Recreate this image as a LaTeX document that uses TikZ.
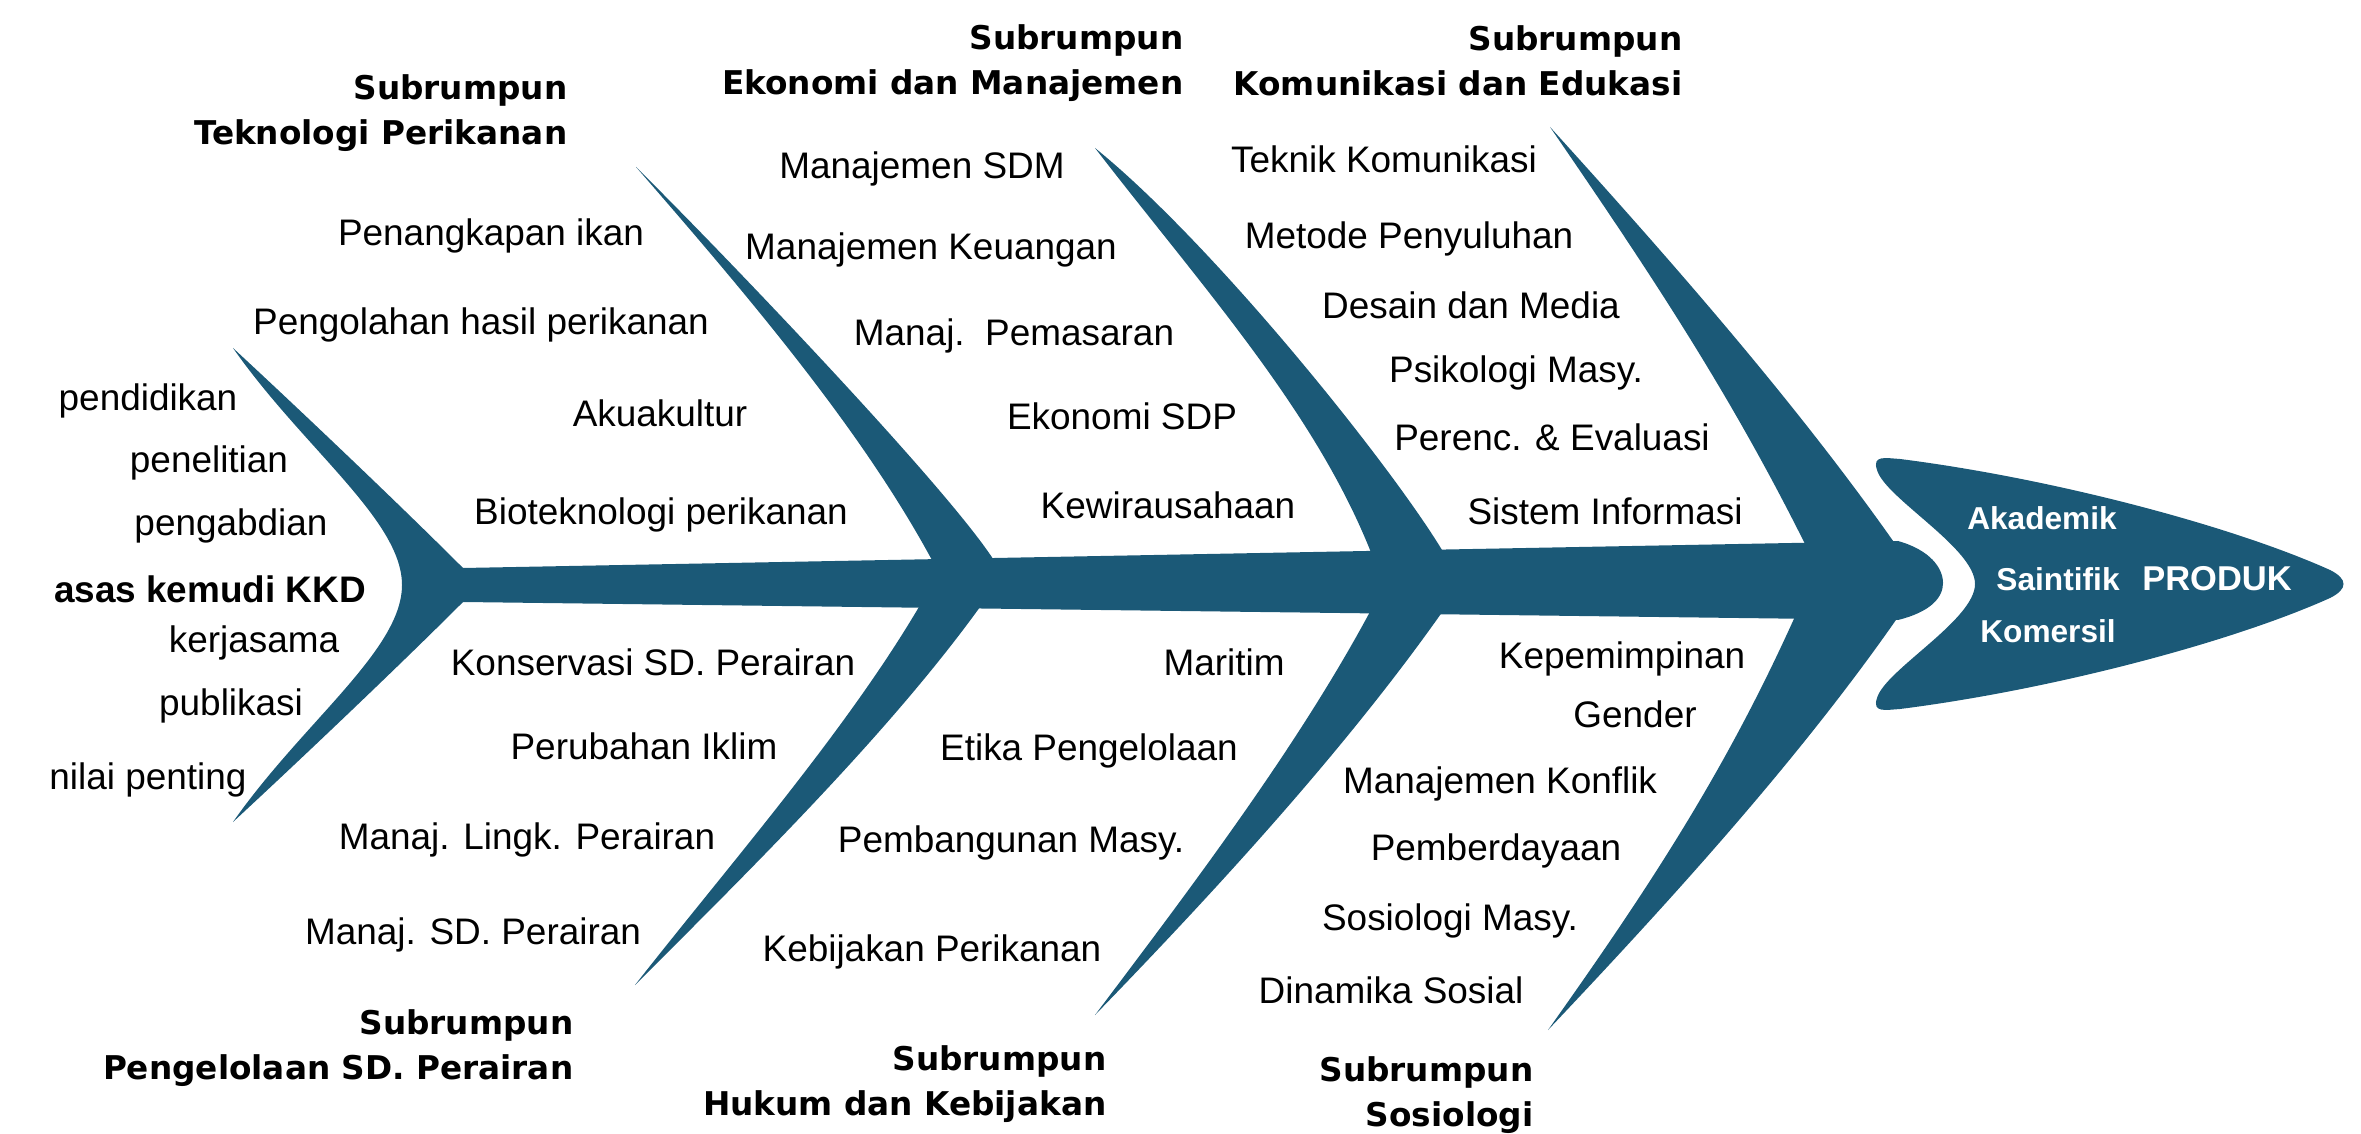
\documentclass[tikz,border=0pt]{standalone}
\usepackage{fontspec}
\setmainfont{Liberation Sans}
\newfontfamily\headfont{DejaVu Sans}
\definecolor{fishblue}{RGB}{27,89,119}
\tikzset{
  item/.style={font=\fontsize{10.5}{12.6}\selectfont,inner sep=0pt,text height=0.8em,text depth=0.1em},
  subrumpun/.style={font=\headfont\bfseries\fontsize{9.3}{12.8}\selectfont,align=right,anchor=east,inner sep=0pt},
  headtext/.style={font=\bfseries\fontsize{9}{10.8}\selectfont,text=white,inner sep=0pt,text height=0.8em,text depth=0.1em},
}
\begin{document}
\begin{tikzpicture}[x=0.01cm,y=-0.01cm]
    \useasboundingbox (0,0) rectangle (2361,1134);

    % tail
    \fill[fishblue] (463,568) .. controls (400,505) and (300,410) .. (233,348)
        .. controls (303,448) and (402,520) .. (402,585)
        .. controls (402,650) and (303,722) .. (233,822)
        .. controls (300,760) and (400,665) .. (463,602) -- cycle;
    % spine
    \fill[fishblue] (463,568) -- (1898,541) .. controls (1930,550) and (1943,568) .. (1943,583)
        .. controls (1943,598) and (1930,612) .. (1898,620) -- (463,602) -- cycle;
    % upper bones
    \fill[fishblue] (636,167) .. controls (749,297) and (862,430) .. (933,562) -- (995,562)
        .. controls (950,490) and (720,250) .. (636,167) -- cycle;
    \fill[fishblue] (1095,148) .. controls (1203,288) and (1316,412) .. (1372,555) -- (1445,555)
        .. controls (1395,470) and (1215,245) .. (1095,148) -- cycle;
    \fill[fishblue] (1550,127) .. controls (1653,277) and (1731,395) .. (1807,548) -- (1898,548)
        .. controls (1800,408) and (1677,267) .. (1550,127) -- cycle;
    % lower bones
    \fill[fishblue] (923,600) .. controls (849,728) and (729,865) .. (635,985)
        .. controls (755,865) and (894,728) .. (985,600) -- cycle;
    \fill[fishblue] (1372,608) .. controls (1299,745) and (1193,885) .. (1095,1015)
        .. controls (1221,885) and (1349,745) .. (1445,608) -- cycle;
    \fill[fishblue] (1797,612) .. controls (1726,771) and (1648,889) .. (1548,1030)
        .. controls (1672,899) and (1800,758) .. (1898,617) -- cycle;
    % head
    \fill[fishblue] (1877,470) .. controls (1872,455) and (1885,458) .. (1900,459)
        .. controls (2050,478) and (2230,525) .. (2330,570)
        .. controls (2348,579) and (2348,589) .. (2330,598)
        .. controls (2230,643) and (2050,690) .. (1900,709)
        .. controls (1885,710) and (1872,713) .. (1877,698)
        .. controls (1885,670) and (1975,620) .. (1975,584)
        .. controls (1975,548) and (1885,498) .. (1877,470) -- cycle;

    % head texts
    \node[headtext] (akademik) at (2042,517) {Akademik};
    \node[headtext] (saintifik) at (2058,578) {Saintifik};
    \node[headtext] (komersil) at (2048,630) {Komersil};
    \node[headtext,font=\bfseries\fontsize{9.8}{11.8}\selectfont] (produk) at (2217,578) {PRODUK};

    % subrumpun titles
    \node[subrumpun] (teknologi) at (568,113) {Subrumpun\\Teknologi Perikanan};
    \node[subrumpun] (ekonomi) at (1184,63) {Subrumpun\\Ekonomi dan Manajemen};
    \node[subrumpun] (komunikasi) at (1683,61) {Subrumpun\\Komunikasi dan Edukasi};
    \node[subrumpun] (pengelolaan) at (574,1048) {Subrumpun\\Pengelolaan SD. Perairan};
    \node[subrumpun] (hukum) at (1107,1084) {Subrumpun\\Hukum dan Kebijakan};
    \node[subrumpun] (sosiologi) at (1534,1095) {Subrumpun\\Sosiologi};

    % tail texts
    \node[item] (pendidikan) at (148,398) {pendidikan};
    \node[item] (penelitian) at (209,460) {penelitian};
    \node[item] (pengabdian) at (231,523) {pengabdian};
    \node[item,font=\bfseries\fontsize{10.5}{12.6}\selectfont] (asas) at (210,590) {asas kemudi KKD};
    \node[item] (kerjasama) at (254,640) {kerjasama};
    \node[item] (publikasi) at (231,703) {publikasi};
    \node[item] (nilai) at (148,777) {nilai penting};

    % teknologi perikanan
    \node[item] (penangkapan) at (491,233) {Penangkapan ikan};
    \node[item] (pengolahan) at (481,322) {Pengolahan hasil perikanan};
    \node[item] (akuakultur) at (660,414) {Akuakultur};
    \node[item] (bioteknologi) at (661,512) {Bioteknologi perikanan};

    % ekonomi dan manajemen
    \node[item] (sdm) at (922,166) {Manajemen SDM};
    \node[item] (keuangan) at (931,247) {Manajemen Keuangan};
    \node[item] (pemasaran) at (1014,333) {Manaj.\ \ Pemasaran};
    \node[item] (sdp) at (1122,417) {Ekonomi SDP};
    \node[item] (kewirausahaan) at (1168,506) {Kewirausahaan};

    % komunikasi dan edukasi
    \node[item] (teknik) at (1384,160) {Teknik Komunikasi};
    \node[item] (penyuluhan) at (1409,236) {Metode Penyuluhan};
    \node[item] (desain) at (1471,306) {Desain dan Media};
    \node[item] (psikologi) at (1516,370) {Psikologi Masy.};
    \node[item] (perencanaan) at (1552,438) {Perenc. \& Evaluasi};
    \node[item] (informasi) at (1605,512) {Sistem Informasi};

    % pengelolaan SD perairan
    \node[item] (konservasi) at (653,663) {Konservasi SD. Perairan};
    \node[item] (iklim) at (644,747) {Perubahan Iklim};
    \node[item] (lingkungan) at (527,837) {Manaj. Lingk. Perairan};
    \node[item] (sdperairan) at (473,932) {Manaj. SD. Perairan};

    % hukum dan kebijakan
    \node[item] (maritim) at (1224,663) {Maritim};
    \node[item] (etika) at (1089,748) {Etika Pengelolaan};
    \node[item] (pembangunan) at (1011,840) {Pembangunan Masy.};
    \node[item] (kebijakan) at (932,949) {Kebijakan Perikanan};

    % sosiologi
    \node[item] (kepemimpinan) at (1622,656) {Kepemimpinan};
    \node[item] (gender) at (1635,715) {Gender};
    \node[item] (konflik) at (1500,781) {Manajemen Konflik};
    \node[item] (pemberdayaan) at (1496,848) {Pemberdayaan};
    \node[item] (sosmasy) at (1450,918) {Sosiologi Masy.};
    \node[item] (dinamika) at (1391,991) {Dinamika Sosial};
\end{tikzpicture}
\end{document}
